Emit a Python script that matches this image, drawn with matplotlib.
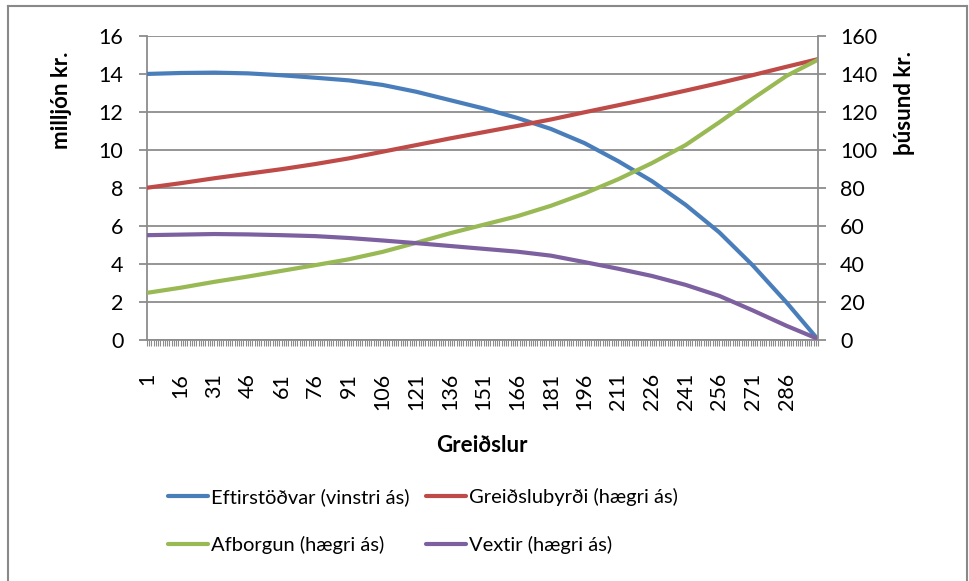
import matplotlib.pyplot as plt
from matplotlib.lines import Line2D

plt.rcParams["font.family"] = ["Lato", "DejaVu Sans"]

payments = [1, 16, 31, 46, 61, 76, 91, 106, 121, 136, 151,
            166, 181, 196, 211, 226, 241, 256, 271, 286, 300]

# remaining balance, million kr. (left axis)
balance = [14.0, 14.05, 14.07, 14.03, 13.93, 13.8, 13.66, 13.42, 13.06, 12.62, 12.18,
           11.68, 11.1, 10.35, 9.4, 8.35, 7.1, 5.65, 3.9, 1.95, 0.0]
# payment, thousand kr. (right axis)
payment = [80.0, 82.4, 85.0, 87.4, 89.8, 92.5, 95.5, 99.0, 102.5, 106.0, 109.3,
           112.6, 116.0, 119.8, 123.5, 127.3, 131.2, 135.2, 139.4, 143.8, 147.8]
principal = [24.6, 27.3, 30.4, 33.2, 36.2, 39.2, 42.3, 46.2, 51.0, 56.0, 60.5,
             65.0, 70.5, 77.0, 84.5, 93.0, 102.5, 114.5, 127.0, 139.0, 147.5]
interest = [55.0, 55.3, 55.6, 55.4, 55.0, 54.5, 53.5, 52.2, 50.8, 49.3, 47.8,
            46.3, 44.2, 40.8, 37.3, 33.5, 28.8, 23.0, 15.3, 7.2, 0.3]

tick_labels = [str(p) for p in range(1, 300, 15)]

labels = ["Eftirstöðvar (vinstri ás)", "Greiðslubyrði (hægri ás)",
          "Afborgun (hægri ás)", "Vextir (hægri ás)"]
colors = ["#4A7EBB", "#BE4B48", "#98B954", "#7D60A0"]
grid_col = "#8C8C8C"

W, H = 970, 581
fig = plt.figure(figsize=(W / 100, H / 100), dpi=100)
ax = fig.add_axes([147 / W, 1 - 339.5 / H, 671 / W, 303.5 / H])
ax2 = ax.twinx()

lw = 3.0
h1, = ax.plot(payments, balance, color=colors[0], lw=lw, solid_capstyle="round", zorder=5)
h2, = ax2.plot(payments, payment, color=colors[1], lw=lw, solid_capstyle="round")
h3, = ax2.plot(payments, principal, color=colors[2], lw=lw, solid_capstyle="round")
h4, = ax2.plot(payments, interest, color=colors[3], lw=lw, solid_capstyle="round")

ax.set_xlim(1, 300)
ax.set_ylim(0, 16)
ax2.set_ylim(0, 160)
ax.set_yticks(range(0, 17, 2))
ax2.set_yticks(range(0, 161, 20))
ax.grid(axis="y", color=grid_col, lw=1.3)
ax.set_axisbelow(True)

ax.set_xticks(range(1, 300, 15))
ax.set_xticklabels(tick_labels, rotation=90, va="top", ha="center")
ax.set_xticks(range(1, 301), minor=True)

for a in (ax, ax2):
    for s in a.spines.values():
        s.set_visible(False)
ax.spines["left"].set_visible(True)
ax.spines["left"].set_color(grid_col)
ax.spines["left"].set_linewidth(1.3)
ax.spines["bottom"].set_visible(True)
ax.spines["bottom"].set_color(grid_col)
ax.spines["bottom"].set_linewidth(1.3)
ax2.spines["right"].set_visible(True)
ax2.spines["right"].set_color(grid_col)
ax2.spines["right"].set_linewidth(1.3)

ax.tick_params(axis="y", length=6, width=1.3, color=grid_col, pad=11, labelsize=15.5)
ax2.tick_params(axis="y", length=6, width=1.3, color=grid_col, pad=10, labelsize=15.5)
ax.tick_params(axis="x", which="major", length=4, width=0.8, color=grid_col, pad=20,
               labelsize=15.5)
ax.tick_params(axis="x", which="minor", length=4, width=0.8, color=grid_col)

fig.text(62 / W, 1 - 100 / H, "milljón kr.", rotation=90, ha="center", va="center",
         fontsize=16, fontweight="bold")
fig.text(905 / W, 1 - 103 / H, "þúsund kr.", rotation=90, ha="center", va="center",
         fontsize=16, fontweight="bold")
fig.text(482 / W, 1 - 445 / H, "Greiðslur", ha="center", va="center",
         fontsize=16, fontweight="bold")

fig.legend([h1, h3, h2, h4], [labels[0], labels[2], labels[1], labels[3]],
           ncol=2, loc="upper left", bbox_to_anchor=(168 / W, 1 - 488 / H),
           frameon=False, fontsize=14.5, handlelength=2.0, handletextpad=0.15,
           columnspacing=0.8, labelspacing=1.5, borderpad=0, borderaxespad=0)

# chart area border (open at the bottom)
border = dict(color="#898989", lw=1.5)
fig.add_artist(Line2D([8.5 / W, 8.5 / W], [0, 1 - 6 / H], transform=fig.transFigure, **border))
fig.add_artist(Line2D([8.5 / W, 967.5 / W], [1 - 6 / H, 1 - 6 / H], transform=fig.transFigure, **border))
fig.add_artist(Line2D([967.5 / W, 967.5 / W], [0, 1 - 6 / H], transform=fig.transFigure, **border))

fig.savefig("out.png", dpi=100)
